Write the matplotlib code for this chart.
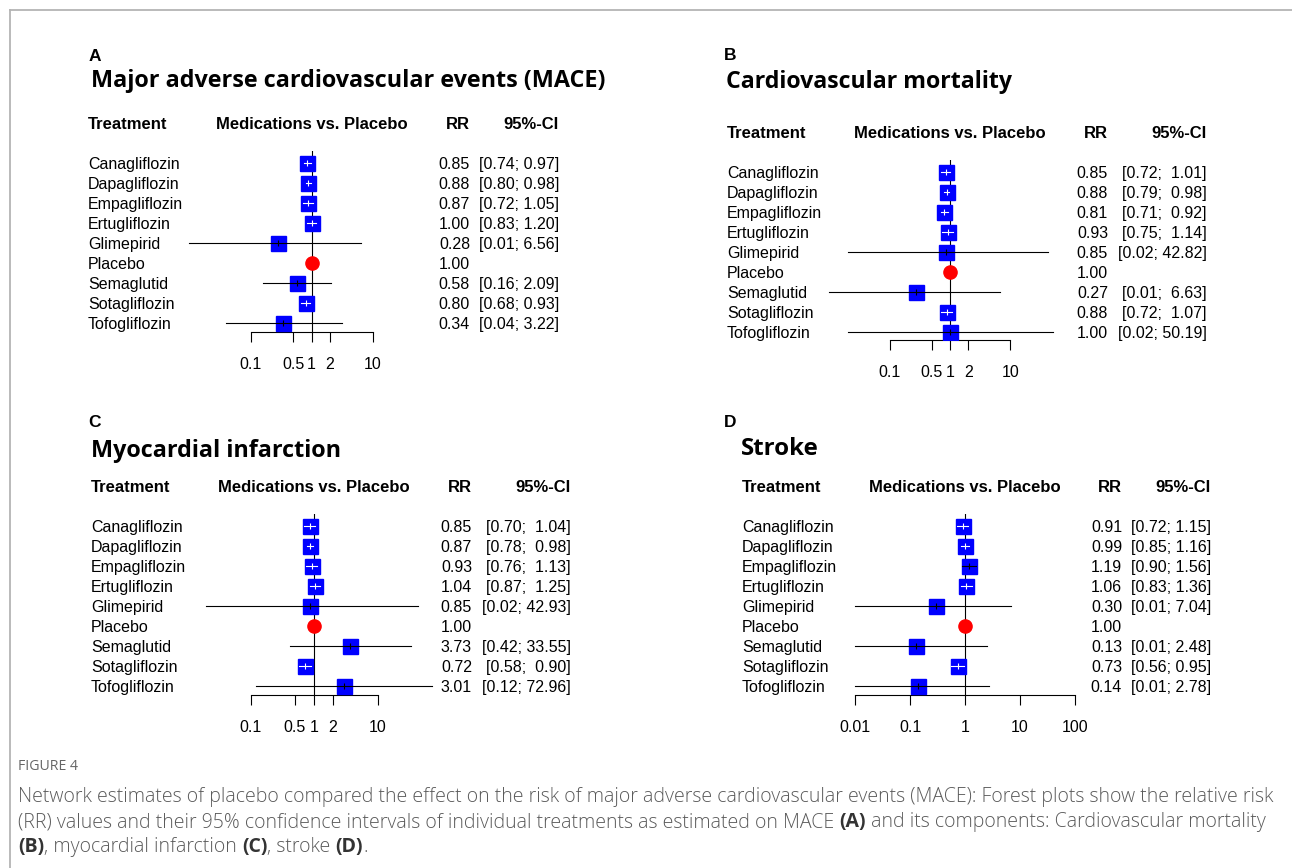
import numpy as np
import matplotlib
matplotlib.use("Agg")
from matplotlib import pyplot as plt
from matplotlib.transforms import blended_transform_factory
from matplotlib.ticker import NullLocator

W, H = 1292, 868

# data
treatments = ["Canagliflozin", "Dapagliflozin", "Empagliflozin", "Ertugliflozin",
              "Glimepirid", "Placebo", "Semaglutid", "Sotagliflozin", "Tofogliflozin"]
ref_name = "Placebo"

mace_rr = [0.85, 0.88, 0.87, 1.00, 0.28, 1.00, 0.58, 0.80, 0.34]
mace_lo = [0.74, 0.80, 0.72, 0.83, 0.01, np.nan, 0.16, 0.68, 0.04]
mace_hi = [0.97, 0.98, 1.05, 1.20, 6.56, np.nan, 2.09, 0.93, 3.22]

cvm_rr = [0.85, 0.88, 0.81, 0.93, 0.85, 1.00, 0.27, 0.88, 1.00]
cvm_lo = [0.72, 0.79, 0.71, 0.75, 0.02, np.nan, 0.01, 0.72, 0.02]
cvm_hi = [1.01, 0.98, 0.92, 1.14, 42.82, np.nan, 6.63, 1.07, 50.19]

mi_rr = [0.85, 0.87, 0.93, 1.04, 0.85, 1.00, 3.73, 0.72, 3.01]
mi_lo = [0.70, 0.78, 0.76, 0.87, 0.02, np.nan, 0.42, 0.58, 0.12]
mi_hi = [1.04, 0.98, 1.13, 1.25, 42.93, np.nan, 33.55, 0.90, 72.96]

stroke_rr = [0.91, 0.99, 1.19, 1.06, 0.30, 1.00, 0.13, 0.73, 0.14]
stroke_lo = [0.72, 0.85, 0.90, 0.83, 0.01, np.nan, 0.01, 0.56, 0.01]
stroke_hi = [1.15, 1.16, 1.56, 1.36, 7.04, np.nan, 2.48, 0.95, 2.78]

ticks_abc = [0.1, 0.5, 1, 2, 10]
ticks_d = [0.01, 0.1, 1, 10, 100]

fig = plt.figure(figsize=(W / 100, H / 100), dpi=100)
FONT = "Liberation Sans"
TITLE_FONT = "Open Sans"
BASE = 0.3  # baseline offset of row text, in rows


def fx(x):
    return x / W


def fy(y):
    return 1 - y / H


def forest(letter, title, rr, lo, hi, ticks, geo):
    # geo: pixel layout of the panel
    x_one, ppd, y0, y_axis = geo["x1"], geo["ppd"], geo["y0"], geo["yaxis"]
    step = 20
    dec = (-2.3, 2.3)
    ytop = -0.6
    ybot = (y_axis - y0) / step
    top_px = y0 + ytop * step
    left_px = x_one + dec[0] * ppd
    ax = fig.add_axes([fx(left_px), fy(y_axis), (dec[1] - dec[0]) * ppd / W,
                       (y_axis - top_px) / H])
    ax.set_xscale("log")
    ax.set_xlim(10 ** dec[0], 10 ** dec[1])
    ax.set_ylim(ybot, ytop)
    ax.patch.set_visible(False)
    for s in ["left", "right", "top"]:
        ax.spines[s].set_visible(False)
    ax.spines["bottom"].set_bounds(ticks[0], ticks[-1])
    ax.spines["bottom"].set_linewidth(0.8)
    ax.set_yticks([])
    ax.set_xticks(ticks)
    ax.set_xticklabels([f"{t:g}" for t in ticks], fontfamily=FONT, fontsize=11.5)
    ax.xaxis.set_minor_locator(NullLocator())
    ax.tick_params(axis="x", length=7.2, width=0.8, pad=10.5, direction="out")
    ax.axvline(1, color="black", lw=0.8, zorder=1)

    for i, name in enumerate(treatments):
        if name == ref_name:
            ax.plot(rr[i], i, marker="o", ms=9.5, color="#ff0000", zorder=3)
            continue
        ax.plot(rr[i], i, marker="s", ms=10.8, color="#0000ff", mec="#0000ff", zorder=3)
        narrow = np.log10(hi[i] / lo[i]) * ppd < 13
        c = "white" if narrow else "black"
        ax.plot([lo[i], hi[i]], [i, i], color=c, lw=0.8, zorder=4, clip_on=False)
        ax.plot(rr[i], i, marker="|", ms=4, mew=0.8, color=c, zorder=5)

    tr = blended_transform_factory(fig.transFigure, ax.transData)
    hdr = dict(fontfamily=FONT, fontsize=12, fontweight="bold", va="baseline", transform=tr)
    ax.text(fx(geo["xlab"]), -2 + BASE, "Treatment", ha="left", **hdr)
    ax.text(fx(x_one), -2 + BASE, "Medications vs. Placebo", ha="center", **hdr)
    ax.text(fx(geo["xrr"]), -2 + BASE, "RR", ha="right", **hdr)
    ax.text(fx(geo["xci"]), -2 + BASE, "95%-CI", ha="right", **hdr)

    his = [f"{h:.2f}" for h in hi if not np.isnan(h)]
    wd = max(len(h) for h in his)
    row = dict(fontfamily=FONT, fontsize=11.5, va="baseline", transform=tr)
    for i, name in enumerate(treatments):
        ax.text(fx(geo["xlab"]), i + BASE, name, ha="left", **row)
        ax.text(fx(geo["xrr"]), i + BASE, f"{rr[i]:.2f}", ha="right", **row)
        if not np.isnan(lo[i]):
            ci = f"[{lo[i]:.2f}; {hi[i]:>{wd}.2f}]"
            ax.text(fx(geo["xci"]), i + BASE, ci, ha="right", **row)

    fig.text(fx(geo["xletter"]), fy(geo["yletter"]), letter, fontfamily=FONT,
             fontsize=12.5, fontweight="bold", ha="left", va="baseline")
    fig.text(fx(geo["xtitle"]), fy(geo["ytitle"]), title, fontfamily=TITLE_FONT,
             fontsize=geo["tsize"], fontweight="bold", ha="left", va="baseline")
    return ax


forest("A", "Major adverse cardiovascular events (MACE)", mace_rr, mace_lo, mace_hi, ticks_abc,
       dict(x1=311.5, ppd=61, y0=163, yaxis=332, xlab=88, xrr=470, xci=559,
            xletter=89, yletter=61, xtitle=91, ytitle=87, tsize=16.85))
forest("B", "Cardiovascular mortality", cvm_rr, cvm_lo, cvm_hi, ticks_abc,
       dict(x1=950, ppd=60.3, y0=172, yaxis=340, xlab=727, xrr=1108, xci=1207,
            xletter=724, yletter=60, xtitle=726, ytitle=88, tsize=16.65))
forest("C", "Myocardial infarction", mi_rr, mi_lo, mi_hi, ticks_abc,
       dict(x1=314, ppd=63.5, y0=526, yaxis=695, xlab=91, xrr=472, xci=571,
            xletter=88, yletter=427, xtitle=91, ytitle=457, tsize=16.8))
forest("D", "Stroke", stroke_rr, stroke_lo, stroke_hi, ticks_d,
       dict(x1=965, ppd=54.8, y0=526, yaxis=695, xlab=742, xrr=1122, xci=1211,
            xletter=724, yletter=427, xtitle=741, ytitle=455, tsize=17.3))

# page frame
fig.add_artist(plt.Line2D([fx(10), 1], [fy(10), fy(10)], color="#b4b4b4", lw=1.3))
fig.add_artist(plt.Line2D([fx(10), fx(10)], [fy(10), 0], color="#b4b4b4", lw=1.3))

# caption
fig.text(fx(18), fy(767), "FIGURE 4", fontfamily="Open Sans", fontsize=10.2,
         color="#666666", va="center")

cap_lines = [
    [("Network estimates of placebo compared the effect on the risk of major adverse "
      "cardiovascular events (MACE): Forest plots show the relative risk", "light")],
    [("(RR) values and their 95% confidence intervals of individual treatments as "
      "estimated on MACE ", "light"), ("(A)", "bold"),
     (" and its components: Cardiovascular mortality", "light")],
    [("(B)", "bold"), (", myocardial infarction ", "light"), ("(C)", "bold"),
     (", stroke ", "light"), ("(D)", "bold"), (".", "light")],
]
cap_y = [797, 822, 847]

renderer = fig.canvas.get_renderer()
for runs, y in zip(cap_lines, cap_y):
    x = 18
    for s, w in runs:
        t = fig.text(fx(x), fy(y), s, fontfamily="Open Sans", fontsize=14.05,
                     fontweight=w, color="#5a5a5a" if w == "light" else "#333333",
                     va="center", ha="left")
        x += t.get_window_extent(renderer).width

fig.savefig("out.png", dpi=100)
